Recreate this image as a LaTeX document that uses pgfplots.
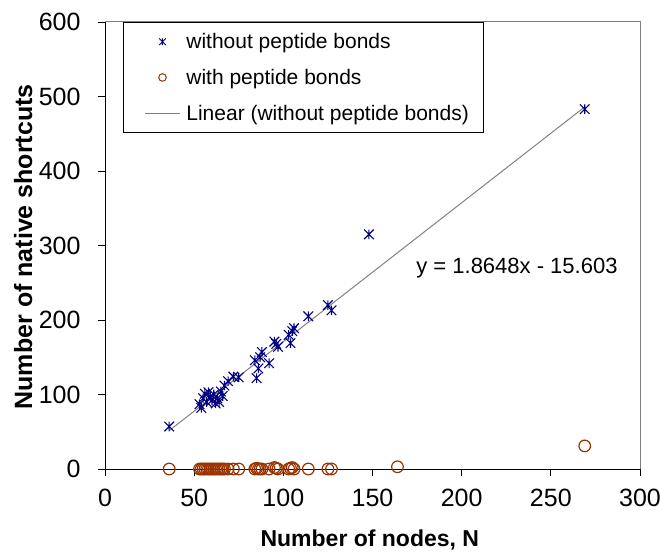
\documentclass[border=0pt]{standalone}
\usepackage{pgfplots}
\pgfplotsset{compat=1.18}
\usetikzlibrary{calc}
\usepackage{fontspec}
\setmainfont{Liberation Sans}

\definecolor{navyblue}{HTML}{000080}
\definecolor{rust}{HTML}{993300}
\definecolor{trendgray}{HTML}{808080}

% x with a vertical bar, as used for the "without peptide bonds" series
\pgfdeclareplotmark{xbar}{%
  \pgfpathmoveto{\pgfqpoint{-\pgfplotmarksize}{-\pgfplotmarksize}}%
  \pgfpathlineto{\pgfqpoint{\pgfplotmarksize}{\pgfplotmarksize}}%
  \pgfpathmoveto{\pgfqpoint{-\pgfplotmarksize}{\pgfplotmarksize}}%
  \pgfpathlineto{\pgfqpoint{\pgfplotmarksize}{-\pgfplotmarksize}}%
  \pgfpathmoveto{\pgfqpoint{0pt}{-\pgfplotmarksize}}%
  \pgfpathlineto{\pgfqpoint{0pt}{\pgfplotmarksize}}%
  \pgfusepathqstroke}

\begin{document}
\begin{tikzpicture}
\begin{axis}[
  name=ax,
  scale only axis,
  width=535pt, height=447pt,
  xmin=0, xmax=300, ymin=0, ymax=600,
  xtick={0,50,...,300}, ytick={0,100,...,600},
  axis x line*=bottom, axis y line*=left,
  axis line style={black, line width=0.8pt},
  tick align=outside, major tick length=7pt,
  tick style={black, line width=0.8pt},
  separate axis lines,
  x axis line style={-}, y axis line style={-},
  /pgf/number format/assume math mode=true,
  ticklabel style={font=\fontsize{25}{28}\selectfont},
  xticklabel style={yshift=-10pt},
  yticklabel style={xshift=-14pt},
  xlabel={Number of nodes, N},
  ylabel={Number of native shortcuts},
  xlabel style={font=\fontsize{23}{26}\selectfont\bfseries,
    at={(axis description cs:0.495,-0.159)}, anchor=center},
  ylabel style={font=\fontsize{25}{28}\selectfont\bfseries,
    at={(axis description cs:-0.153,0.497)}, anchor=center},
  legend style={
    at={(axis description cs:0.034,1)}, anchor=north west,
    draw=black, line width=0.8pt,
    font=\fontsize{21}{24}\selectfont,
    inner xsep=12pt, inner ysep=9pt,
    row sep=15pt,
  },
  legend cell align=left,
  clip=false,
]
% number of native shortcuts, backbone peptide bonds excluded
\addplot[only marks, mark=xbar, mark size=4.8pt, navyblue, line width=1.1pt, forget plot]
coordinates {
 (36,57) (53,87) (54,82) (55,95) (56,101) (57,90) (58,103) (59,97)
 (60,92) (61,100) (62,88) (63,95) (64,90) (65,104) (66,98) (67,112)
 (69,118) (72,124) (75,123) (84,146) (85,122) (86,135) (87,150) (88,157)
 (92,142) (95,171) (96,168) (97,164) (103,180) (104,169) (105,185) (106,189)
 (114,205) (125,220) (127,213) (148,315) (269,483)
};
% number of native shortcuts, peptide bonds included
\addplot[only marks, mark=o, mark size=5.8pt, rust, line width=1.2pt, forget plot]
coordinates {
 (36,0) (53,0) (54,0) (55,0) (56,0) (57,0) (58,0) (59,0)
 (60,0) (61,0) (62,0) (63,0) (64,0) (65,0) (66,0) (67,0)
 (69,0) (72,0) (75,0) (84,0) (85,1) (86,0) (87,0) (88,0)
 (92,0) (95,2) (96,1) (97,0) (103,0) (104,1) (105,2) (106,0)
 (114,0) (125,0) (127,0) (164,3) (269,31)
};
% least-squares fit y = 1.8648x - 15.603 over the data range
\addplot[trendgray, line width=1pt, mark=none, forget plot]
coordinates {(36,51.53) (269,486.03)};

% legend entries with smaller symbols
\addlegendimage{legend image code/.code={%
  \path (0pt,0pt) (48pt,0pt);
  \draw[navyblue, line width=1pt] plot[mark=xbar, mark size=3.3pt] coordinates {(26.5pt,0pt)};}}
\addlegendentry{without peptide bonds}
\addlegendimage{legend image code/.code={%
  \path (0pt,0pt) (48pt,0pt);
  \draw[rust, line width=1pt] plot[mark=o, mark size=3.8pt] coordinates {(26.5pt,0pt)};}}
\addlegendentry{with peptide bonds}
\addlegendimage{legend image code/.code={%
  \path (0pt,0pt) (48pt,0pt);
  \draw[trendgray, line width=1pt] (9pt,0pt) -- (44pt,0pt);}}
\addlegendentry{Linear (without peptide bonds)}

\node[font=\fontsize{22}{25}\selectfont, anchor=center]
  at (axis cs:231,270) {y = 1.8648x - 15.603};

% lighter frame on the top and right sides of the plot area
\draw[trendgray, line width=1pt]
  (rel axis cs:0,1) -- (rel axis cs:1,1) -- (rel axis cs:1,0);
\end{axis}
\pgfresetboundingbox
\path (ax.south west) ++(-105pt,-85pt) rectangle ($(ax.north east)+(20pt,22pt)$);
\end{tikzpicture}
\end{document}
